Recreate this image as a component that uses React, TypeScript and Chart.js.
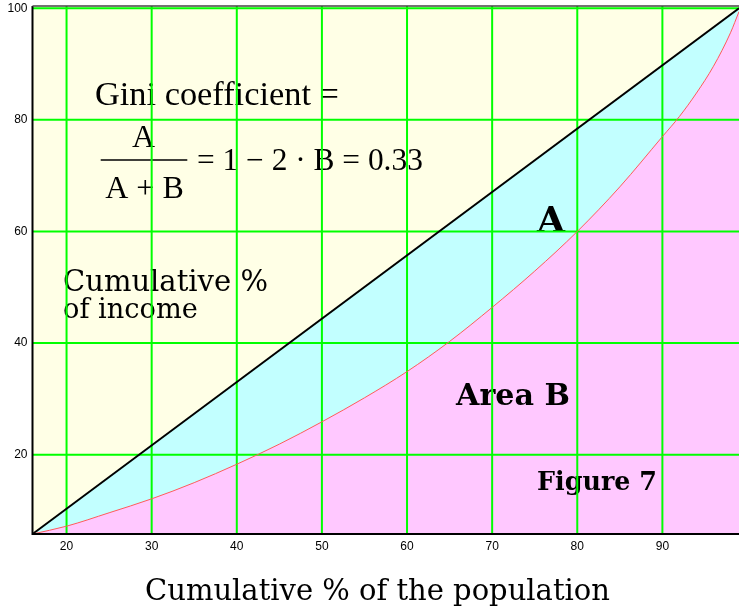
import { useEffect, useRef } from "react";
import { Chart, registerables } from "chart.js";

Chart.register(...registerables);

// ---- data ----
const populationPct = [16, 20, 25, 30, 35, 40, 45, 50, 55, 60, 65, 70, 75, 80, 85, 90, 92, 94, 96, 98, 99];
const incomePct = [5.8, 7.2, 9.6, 12.1, 15.0, 18.3, 21.9, 25.9, 30.2, 34.9, 40.3, 46.4, 52.9, 60.0, 68.0, 77.0, 80.6, 84.8, 89.6, 95.6, 99.4];
const equalityX = [16, 99];
const equalityY = [5.8, 100];
const xTicks = [20, 30, 40, 50, 60, 70, 80, 90];
const yTicks = [20, 40, 60, 80, 100];
const xTitle = "Cumulative % of the population";
const yNote = ["Cumulative %", "of income"];
const giniTitle = "Gini coefficient =";
const giniNumerator = "A";
const giniDenominator = "A + B";
const giniRest = "= 1 \u2212 2 \u00b7 B = 0.33";
const labelA = "A";
const labelB = "Area B";
const figureLabel = "Figure 7";

const YELLOW = "#FFFFE6";
const CYAN = "#C2FFFF";
const PINK = "#FFC8FF";
const GREEN = "#00FF00";
const TIMES = '"Liberation Serif", serif';
const PALA = '"DejaVu Serif", serif';

function fitText(
  ctx: CanvasRenderingContext2D,
  text: string,
  x: number,
  baseline: number,
  width: number,
  family: string,
  weight = "normal",
  align: CanvasTextAlign = "left"
) {
  ctx.font = `${weight} 100px ${family}`;
  const w = ctx.measureText(text).width;
  const size = (100 * width) / w;
  ctx.font = `${weight} ${size}px ${family}`;
  ctx.textAlign = align;
  ctx.textBaseline = "alphabetic";
  ctx.fillStyle = "#000";
  ctx.fillText(text, x, baseline);
}

function sizedText(
  ctx: CanvasRenderingContext2D,
  text: string,
  x: number,
  baseline: number,
  size: number,
  family: string,
  align: CanvasTextAlign = "left"
) {
  ctx.font = `normal ${size}px ${family}`;
  ctx.textAlign = align;
  ctx.textBaseline = "alphabetic";
  ctx.fillStyle = "#000";
  ctx.fillText(text, x, baseline);
}

export default function App() {
  const ref = useRef<HTMLCanvasElement>(null);

  useEffect(() => {
    const canvas = ref.current;
    if (!canvas) return;

    const bgPlugin = {
      id: "bgArea",
      beforeDraw(chart: any) {
        const { ctx, chartArea: a } = chart;
        ctx.save();
        ctx.fillStyle = YELLOW;
        ctx.fillRect(a.left, a.top, a.right - a.left, a.bottom - a.top);
        ctx.restore();
      },
    };

    const overlayPlugin = {
      id: "textAndGrid",
      beforeDatasetsDraw(chart: any) {
        const { ctx, chartArea: a, scales } = chart;
        ctx.save();
        // annotations
        fitText(ctx, giniTitle, 95, 105, 244, TIMES);
        sizedText(ctx, giniNumerator, 143.5, 147, 32, TIMES, "center");
        sizedText(ctx, giniDenominator, 144.5, 198, 32, TIMES, "center");
        ctx.strokeStyle = "#000";
        ctx.lineWidth = 1.4;
        ctx.beginPath();
        ctx.moveTo(100.7, 160);
        ctx.lineTo(187.3, 160);
        ctx.stroke();
        fitText(ctx, giniRest, 197, 169.5, 226, TIMES);
        fitText(ctx, yNote[0], 63, 290.7, 205, PALA);
        fitText(ctx, yNote[1], 63, 318, 135, PALA);
        fitText(ctx, labelA, 537, 231.7, 28, PALA, "bold");
        fitText(ctx, labelB, 456, 405, 114, PALA, "bold");
        fitText(ctx, figureLabel, 537, 490, 120, PALA, "bold");
        fitText(ctx, xTitle, 377.5, 600, 465, PALA, "normal", "center");

        // green grid over the fills and text
        ctx.save();
        ctx.beginPath();
        ctx.rect(a.left, a.top, a.right - a.left, a.bottom - a.top);
        ctx.clip();
        ctx.strokeStyle = GREEN;
        ctx.lineWidth = 2;
        for (const v of xTicks) {
          const px = scales.x.getPixelForValue(v);
          ctx.beginPath();
          ctx.moveTo(px, a.top);
          ctx.lineTo(px, a.bottom);
          ctx.stroke();
        }
        for (const v of yTicks) {
          const py = scales.y.getPixelForValue(v);
          ctx.beginPath();
          ctx.moveTo(a.left, py);
          ctx.lineTo(a.right, py);
          ctx.stroke();
        }
        ctx.restore();
        ctx.restore();
      },
      afterDatasetsDraw(chart: any) {
        const { ctx, chartArea: a } = chart;
        ctx.save();
        ctx.lineWidth = 2;
        ctx.strokeStyle = "#000";
        ctx.beginPath();
        ctx.moveTo(a.left, a.top);
        ctx.lineTo(a.left, a.bottom);
        ctx.lineTo(a.right, a.bottom);
        ctx.stroke();
        ctx.strokeStyle = "#444";
        ctx.lineWidth = 1.5;
        ctx.beginPath();
        ctx.moveTo(a.left, a.top);
        ctx.lineTo(a.right, a.top);
        ctx.stroke();
        ctx.restore();
      },
    };

    const tickFont = { family: '"Liberation Sans", Arial, sans-serif', size: 12, lineHeight: 1 };

    const chart = new Chart(canvas, {
      type: "line",
      data: {
        datasets: [
          {
            label: "Lorenz curve",
            data: populationPct.map((x, i) => ({ x, y: incomePct[i] })),
            borderColor: "#FF5A5A",
            borderWidth: 1,
            backgroundColor: PINK,
            fill: "start",
            pointRadius: 0,
            cubicInterpolationMode: "monotone",
          },
          {
            label: "Line of equality",
            data: equalityX.map((x, i) => ({ x, y: equalityY[i] })),
            borderColor: "#000",
            borderWidth: 2,
            backgroundColor: CYAN,
            fill: "start",
            pointRadius: 0,
            tension: 0,
          },
        ],
      },
      options: {
        responsive: false,
        animation: false,
        events: [],
        layout: { padding: { left: 0, right: 0, top: 6, bottom: 0 } },
        plugins: {
          legend: { display: false },
          tooltip: { enabled: false },
          filler: { drawTime: "beforeDatasetsDraw" },
        },
        scales: {
          x: {
            type: "linear",
            min: 16,
            max: 99,
            afterBuildTicks: (s: any) => {
              s.ticks = xTicks.map((v) => ({ value: v }));
            },
            afterFit: (s: any) => {
              s.height = 75;
              s.paddingLeft = 0;
              s.paddingRight = 0;
            },
            grid: { display: false, drawTicks: false },
            border: { display: false },
            ticks: { padding: 7, color: "#000", font: tickFont, maxRotation: 0 },
          },
          y: {
            type: "linear",
            min: 5.8,
            max: 100.4,
            afterBuildTicks: (s: any) => {
              s.ticks = yTicks.map((v) => ({ value: v }));
            },
            afterFit: (s: any) => {
              s.width = 32.5;
              s.paddingTop = 0;
              s.paddingBottom = 0;
            },
            grid: { display: false, drawTicks: false },
            border: { display: false },
            ticks: { padding: 5, color: "#000", font: tickFont },
          },
        },
      },
      plugins: [bgPlugin, overlayPlugin],
    } as any);

    return () => chart.destroy();
  }, []);

  return (
    <div style={{ position: "absolute", left: 0, top: 0, width: 739, height: 609, background: "#fff" }}>
      <canvas ref={ref} width={739} height={609} style={{ display: "block", width: 739, height: 609 }} />
    </div>
  );
}
